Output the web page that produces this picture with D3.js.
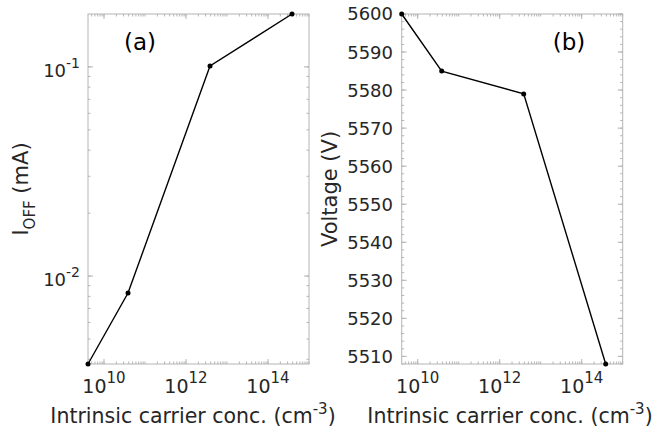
<!DOCTYPE html>
<html>
<head>
<meta charset="utf-8">
<script src="https://cdn.jsdelivr.net/npm/d3@7"></script>
<style>
  body { margin: 0; background: #fff; }
  svg { display: block; font-family: "DejaVu Sans", sans-serif; }
</style>
</head>
<body>
<div id="chart"></div>
<script>
// Data
const carrierConc = [4.07e9, 3.85e10, 3.85e12, 3.85e14];   // cm^-3
const offCurrent = [0.0038, 0.0083, 0.101, 0.179];          // mA
const breakdownVoltage = [5600, 5585, 5579, 5508];          // V
const xTickValues = [1e10, 1e12, 1e14];
const xTickExponents = ["10", "12", "14"];
const currentTickValues = [1e-2, 1e-1];
const currentTickExponents = ["-2", "-1"];
const voltageTickValues = [5510, 5520, 5530, 5540, 5550, 5560, 5570, 5580, 5590, 5600];

const W = 659, H = 433;
const svg = d3.select("#chart").append("svg")
    .attr("width", W)
    .attr("height", H);

const plotTop = 14, plotBottom = 364, panelW = 221;
const axisColor = "#b4b4b4";
const textColor = "#262626";

// shared log x scale factory
function makeX(left) {
    return d3.scaleLog()
        .domain([carrierConc[0], 1e15])
        .range([left, left + panelW]);
}

// minor tick values for log axis inside domain
function logMinor(domain) {
    const out = [];
    const lo = Math.floor(Math.log10(domain[0])), hi = Math.ceil(Math.log10(domain[1]));
    for (let e = lo; e <= hi; e++) {
        for (let m = 1; m <= 9; m++) {
            const v = m * Math.pow(10, e);
            if (v >= domain[0] && v <= domain[1]) out.push(v);
        }
    }
    return out;
}

// box with inward ticks on all sides
function drawFrame(g, x, y, xMajor, xMinor, yMajor, yMinor) {
    const [x0, x1] = x.range();
    const [y0, y1] = [plotBottom, plotTop];
    g.append("rect")
        .attr("x", x0).attr("y", y1)
        .attr("width", x1 - x0).attr("height", y0 - y1)
        .attr("fill", "none")
        .attr("stroke", axisColor)
        .attr("stroke-width", 1);

    const tick = (vals, len, horizontal) => {
        vals.forEach(v => {
            if (horizontal) {
                const px = x(v);
                g.append("line").attr("x1", px).attr("x2", px).attr("y1", y0).attr("y2", y0 - len)
                    .attr("stroke", axisColor);
                g.append("line").attr("x1", px).attr("x2", px).attr("y1", y1).attr("y2", y1 + len)
                    .attr("stroke", axisColor);
            } else {
                const py = y(v);
                g.append("line").attr("x1", x0).attr("x2", x0 + len).attr("y1", py).attr("y2", py)
                    .attr("stroke", axisColor);
                g.append("line").attr("x1", x1).attr("x2", x1 - len).attr("y1", py).attr("y2", py)
                    .attr("stroke", axisColor);
            }
        });
    };
    tick(xMinor, 2.5, true);
    tick(xMajor, 5, true);
    tick(yMinor, 2.5, false);
    tick(yMajor, 5, false);
}

function drawXLabels(g, x, labelX) {
    xTickValues.forEach((v, i) => {
        const t = g.append("text")
            .attr("x", x(v))
            .attr("y", 393)
            .attr("text-anchor", "middle")
            .attr("fill", textColor)
            .style("font-size", "19px");
        t.append("tspan").text("10");
        t.append("tspan").attr("dy", -10).style("font-size", "15px").text(xTickExponents[i]);
    });
    const lab = g.append("text")
        .attr("x", labelX)
        .attr("y", 423)
        .attr("text-anchor", "middle")
        .attr("fill", textColor)
        .style("font-size", "20.5px");
    lab.append("tspan").text("Intrinsic carrier conc. (cm");
    lab.append("tspan").attr("dy", -9).style("font-size", "15px").text("-3");
    lab.append("tspan").attr("dy", 9).text(")");
}

function drawSeries(g, x, y, ys) {
    const pts = carrierConc.map((c, i) => [x(c), y(ys[i])]);
    g.append("path")
        .attr("d", d3.line()(pts))
        .attr("fill", "none")
        .attr("stroke", "#000")
        .attr("stroke-width", 1.4);
    g.selectAll(null).data(pts).enter().append("circle")
        .attr("cx", d => d[0]).attr("cy", d => d[1])
        .attr("r", 2.5).attr("fill", "#000");
}

// ---------- panel (a): I_OFF, log y ----------
const xA = makeX(88);
const yA = d3.scaleLog()
    .domain([offCurrent[0], offCurrent[3]])
    .range([plotBottom, plotTop]);
const gA = svg.append("g");
drawFrame(gA, xA, yA, xTickValues, logMinor(xA.domain()),
    currentTickValues, logMinor(yA.domain()));
drawSeries(gA, xA, yA, offCurrent);
drawXLabels(gA, xA, 193);

currentTickValues.forEach((v, i) => {
    const t = gA.append("text")
        .attr("x", 80)
        .attr("y", yA(v) + 10)
        .attr("text-anchor", "end")
        .attr("fill", textColor)
        .style("font-size", "18px");
    t.append("tspan").text("10");
    t.append("tspan").attr("dy", -9).style("font-size", "14px").text(currentTickExponents[i]);
});

const ylabA = gA.append("text")
    .attr("transform", `translate(28,${(plotTop + plotBottom) / 2}) rotate(-90)`)
    .attr("text-anchor", "middle")
    .attr("fill", textColor)
    .style("font-size", "21px");
ylabA.append("tspan").text("I");
ylabA.append("tspan").attr("dy", 7).style("font-size", "15px").text("OFF");
ylabA.append("tspan").attr("dy", -7).text(" (mA)");

gA.append("text")
    .attr("x", 140).attr("y", 50)
    .attr("text-anchor", "middle")
    .attr("fill", "#000")
    .style("font-size", "23px")
    .text("(a)");

// ---------- panel (b): voltage, linear y ----------
const xB = makeX(401.7);
const yB = d3.scaleLinear()
    .domain([breakdownVoltage[3], breakdownVoltage[0]])
    .range([plotBottom, plotTop]);
const gB = svg.append("g");
drawFrame(gB, xB, yB, xTickValues, logMinor(xB.domain()),
    voltageTickValues, d3.range(5508, 5601, 2));
drawSeries(gB, xB, yB, breakdownVoltage);
drawXLabels(gB, xB, 510);

gB.selectAll(null).data(voltageTickValues).enter().append("text")
    .attr("x", 393)
    .attr("y", d => yB(d))
    .attr("dy", "0.36em")
    .attr("text-anchor", "end")
    .attr("fill", textColor)
    .style("font-size", "18px")
    .text(d => d);

gB.append("text")
    .attr("transform", `translate(337,${(plotTop + plotBottom) / 2}) rotate(-90)`)
    .attr("text-anchor", "middle")
    .attr("fill", textColor)
    .style("font-size", "21px")
    .text("Voltage (V)");

gB.append("text")
    .attr("x", 569).attr("y", 50)
    .attr("text-anchor", "middle")
    .attr("fill", "#000")
    .style("font-size", "23px")
    .text("(b)");
</script>
</body>
</html>
